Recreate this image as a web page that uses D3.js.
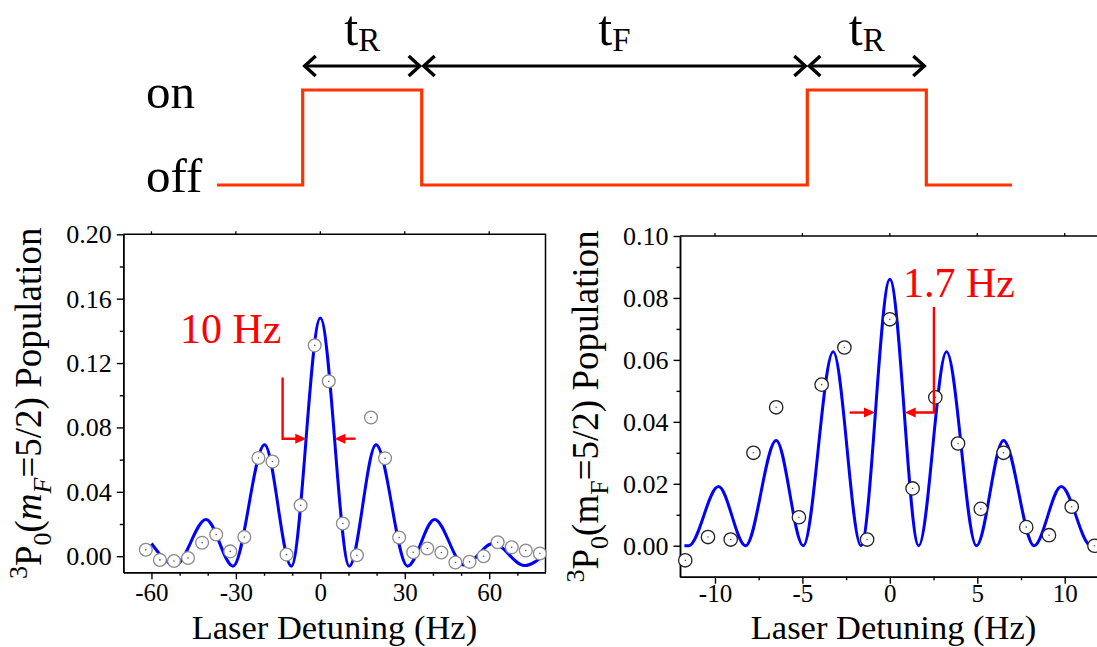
<!DOCTYPE html>
<html>
<head>
<meta charset="utf-8">
<script src="https://cdn.jsdelivr.net/npm/d3@7"></script>
<style>
  body { margin: 0; background: #fff; }
  svg { display: block; }
  text { font-family: "Liberation Serif", "Times New Roman", serif; }
</style>
</head>
<body>
<svg id="fig" width="1097" height="647"></svg>
<script>
// ---- Pulse sequence (arbitrary time units) ----
const pulseTimes  = [0, 0.72, 0.72, 1.72, 1.72, 4.96, 4.96, 5.96, 5.96, 6.68];
const pulseLevels = [0, 0, 1, 1, 0, 0, 1, 1, 0, 0];
const spanStarts  = [0.72, 1.72, 4.96];
const spanEnds    = [1.72, 4.96, 5.96];
const spanMain    = ["t", "t", "t"];
const spanSubs    = ["R", "F", "R"];
const levelNames  = ["off", "on"];

// ---- Rabi spectrum (left panel) ----
const rabiDetuning = [-62, -57, -52, -47, -42, -37, -32, -27, -22, -17, -12, -7, -2, 3, 8, 13, 18, 23, 28, 33, 38, 43, 48, 53, 58, 63, 68, 73, 78];
const rabiPop      = [0.0040, -0.0023, -0.0030, -0.0011, 0.0084, 0.0135, 0.0030, 0.0119, 0.0610, 0.0588, 0.0010, 0.0316, 0.1310, 0.1087, 0.0203, 0.0006, 0.0862, 0.0609, 0.0116, 0.0025, 0.0048, 0.0023, -0.0039, -0.0035, 0.0000, 0.0087, 0.0055, 0.0035, 0.0017];
const rabiFitX     = [-60, -51.5, -40.6, -31, -19.8, -10.3, 0, 10.3, 19.8, 31, 40.6, 51, 61.5, 72.5, 80];
const rabiFitY     = [0.0079, -0.0055, 0.0228, -0.0062, 0.0692, -0.0062, 0.148, -0.0062, 0.0692, -0.0062, 0.0228, -0.0055, 0.0080, -0.0058, 0.0015];
const rabiXTicks   = [-60, -30, 0, 30, 60];
const rabiXMinor   = [-50, -40, -20, -10, 10, 20, 40, 50, 70];
const rabiYTicks   = [0.00, 0.04, 0.08, 0.12, 0.16, 0.20];
const rabiYMinor   = [0.02, 0.06, 0.10, 0.14, 0.18];
const rabiWidth    = 10;     // Hz, FWHM label
const rabiHalf     = 0.073;

// ---- Ramsey spectrum (right panel) ----
const ramseyDetuning = [-11.7, -10.4, -9.1, -7.8, -6.5, -5.2, -3.9, -2.6, -1.3, 0, 1.3, 2.6, 3.9, 5.2, 6.5, 7.8, 9.1, 10.4, 11.7];
const ramseyPop      = [-0.0047, 0.0028, 0.0020, 0.0300, 0.0447, 0.0092, 0.0520, 0.0640, 0.0020, 0.0731, 0.0185, 0.0479, 0.0330, 0.0119, 0.0300, 0.0060, 0.0034, 0.0126, 0.0000];
const ramseyFitX     = [-11.75, -11.5, -9.8, -8.25, -6.5, -4.95, -3.24, -1.65, 0, 1.65, 3.24, 4.95, 6.5, 8.25, 9.8, 11.5, 11.75];
const ramseyFitY     = [0, 0, 0.0191, 0, 0.034, 0, 0.0626, 0, 0.086, 0, 0.0626, 0, 0.034, 0, 0.0191, 0, 0];
const ramseyXTicks   = [-10, -5, 0, 5, 10];
const ramseyXMinor   = [-7.5, -2.5, 2.5, 7.5];
const ramseyYTicks   = [0.00, 0.02, 0.04, 0.06, 0.08, 0.10];
const ramseyYMinor   = [0.01, 0.03, 0.05, 0.07, 0.09];
const ramseyWidth    = 1.7;  // Hz, FWHM label
const ramseyHalf     = 0.043;

const svg = d3.select("#fig");

// =============== pulse sequence ===============
(function drawPulse() {
  const t = d3.scaleLinear().domain([0, 6.68]).range([217, 1012]);
  const lv = d3.scaleLinear().domain([0, 1]).range([185, 90]);
  const g = svg.append("g");

  const pts = pulseTimes.map((d, i) => [t(d), lv(pulseLevels[i])]);
  g.append("path")
    .attr("d", d3.line()(pts))
    .attr("fill", "none")
    .attr("stroke", "#ff3300")
    .attr("stroke-width", 3.2);

  g.selectAll("text.level").data(levelNames).join("text")
    .attr("class", "level")
    .attr("x", 146)
    .attr("y", (d, i) => lv(i) + (i ? 18 : 7))
    .attr("font-size", 49)
    .text(d => d);

  const ay = 66;
  spanStarts.forEach((s, i) => {
    const x0 = t(s) + 2, x1 = t(spanEnds[i]) - 2;
    g.append("line").attr("x1", x0).attr("x2", x1).attr("y1", ay).attr("y2", ay)
      .attr("stroke", "#000").attr("stroke-width", 3);
    const head = (xt, dir) => g.append("path")
      .attr("d", `M${xt + dir * 11},${ay - 10}L${xt},${ay}L${xt + dir * 11},${ay + 10}`)
      .attr("fill", "none").attr("stroke", "#000").attr("stroke-width", 3.4)
      .attr("stroke-linejoin", "miter");
    head(x0, 1); head(x1, -1);

    const lab = g.append("text")
      .attr("x", (x0 + x1) / 2).attr("y", 45)
      .attr("text-anchor", "middle").attr("font-size", 50);
    lab.append("tspan").text(spanMain[i]);
    lab.append("tspan").attr("font-size", 33).attr("dy", 6).text(spanSubs[i]);
  });
})();

// =============== spectrum panels ===============
function panel(cfg) {
  const x = d3.scaleLinear().domain(cfg.xDomain).range([cfg.left, cfg.right]);
  const y = d3.scaleLinear().domain(cfg.yDomain).range([cfg.bottom, cfg.top]);
  const g = svg.append("g");

  // frame (top + right)
  g.append("path")
    .attr("d", `M${cfg.left},${cfg.top}H${cfg.right}V${cfg.bottom}`)
    .attr("fill", "none").attr("stroke", "#000").attr("stroke-width", 1.5);

  // top-edge ticks
  g.selectAll("line.topTick").data(cfg.xTicks).join("line")
    .attr("class", "topTick")
    .attr("x1", d => x(d)).attr("x2", d => x(d))
    .attr("y1", cfg.top).attr("y2", cfg.top - 3)
    .attr("stroke", "#000").attr("stroke-width", 1.3);

  const styleAxis = fs => sel => {
    sel.select(".domain").attr("stroke-width", 1.5);
    sel.selectAll(".tick line").attr("stroke-width", 1.4);
    sel.selectAll(".tick text").attr("font-size", fs);
  };

  // minor ticks (no labels)
  const minorX = d3.axisBottom(x).tickValues(cfg.xMinor).tickSize(3.5).tickSizeOuter(0);
  const minorY = d3.axisLeft(y).tickValues(cfg.yMinor).tickSize(3.5).tickSizeOuter(0);
  g.append("g").attr("transform", `translate(0,${cfg.bottom})`)
    .call(minorX).call(styleAxis(25)).call(s => s.selectAll(".tick text").remove());
  g.append("g").attr("transform", `translate(${cfg.left},0)`)
    .call(minorY).call(styleAxis(26)).call(s => s.selectAll(".tick text").remove());

  // major ticks with labels
  g.append("g").attr("transform", `translate(0,${cfg.bottom})`)
    .call(d3.axisBottom(x).tickValues(cfg.xTicks).tickSize(7).tickPadding(cfg.xPad)
      .tickSizeOuter(0).tickFormat(d => String(d)))
    .call(styleAxis(25));
  g.append("g").attr("transform", `translate(${cfg.left},0)`)
    .call(d3.axisLeft(y).tickValues(cfg.yTicks).tickSize(6.5).tickPadding(5)
      .tickSizeOuter(0).tickFormat(d3.format(".2f")))
    .call(styleAxis(26));

  // axis titles
  g.append("text")
    .attr("x", (cfg.left + Math.min(cfg.right, 1097)) / 2 + cfg.xTitleShift)
    .attr("y", cfg.xTitleY)
    .attr("text-anchor", "middle").attr("font-size", 34.5)
    .text("Laser Detuning (Hz)");

  const yt = g.append("text")
    .attr("transform", `translate(${cfg.yTitleX},${(cfg.top + cfg.bottom) / 2}) rotate(-90)`)
    .attr("text-anchor", "middle").attr("font-size", 37);
  let shift = 0;
  const parts = [
    { s: "3", sh: -14, small: true },
    { s: "P", sh: 0 },
    { s: "0", sh: 10, small: true },
    { s: "(", sh: 0 },
    { s: "m", sh: 0, it: cfg.italicM },
    { s: "F", sh: 10, small: true, it: cfg.italicM },
    { s: "=5/2) Population", sh: 0 }
  ];
  parts.forEach(p => {
    const ts = yt.append("tspan").attr("dy", p.sh - shift).text(p.s);
    if (p.small) ts.attr("font-size", 26);
    if (p.it) ts.attr("font-style", "italic");
    shift = p.sh;
  });

  // fit curve
  g.append("path")
    .attr("d", d3.line().x(d => x(d[0])).y(d => y(d[1])).curve(d3.curveMonotoneX)(
      cfg.fitX.map((v, i) => [v, cfg.fitY[i]])))
    .attr("fill", "none").attr("stroke", "#0000ff").attr("stroke-width", 3);

  // measured points
  const pts = cfg.px.map((v, i) => [v, cfg.py[i]]);
  g.selectAll("circle.pt").data(pts).join("circle")
    .attr("class", "pt")
    .attr("cx", d => x(d[0])).attr("cy", d => y(d[1])).attr("r", cfg.r)
    .attr("fill", "#fff").attr("stroke", cfg.ptStroke).attr("stroke-width", 1.3);
  g.selectAll("circle.dot").data(pts).join("circle")
    .attr("class", "dot")
    .attr("cx", d => x(d[0])).attr("cy", d => y(d[1])).attr("r", 0.8)
    .attr("fill", "#555");

  // linewidth annotation
  const red = "#ff0000";
  const a = cfg.ann;
  const hy = y(a.level);
  const head = (tip, dir) => g.append("path")
    .attr("d", `M${tip},${hy}L${tip - dir * 11},${hy - 5}L${tip - dir * 11},${hy + 5}Z`)
    .attr("fill", red);
  const lTip = x(-a.width / 2), rTip = x(a.width / 2);
  if (a.side === "left") {
    g.append("path")
      .attr("d", `M${x(a.postX)},${y(a.postTop)}V${hy}H${lTip - 9}`)
      .attr("fill", "none").attr("stroke", red).attr("stroke-width", 2.4);
    g.append("line").attr("x1", x(a.tailX)).attr("x2", rTip + 9)
      .attr("y1", hy).attr("y2", hy).attr("stroke", red).attr("stroke-width", 2.4);
  } else {
    g.append("path")
      .attr("d", `M${x(a.postX)},${y(a.postTop)}V${hy}H${rTip + 9}`)
      .attr("fill", "none").attr("stroke", red).attr("stroke-width", 2.4);
    g.append("line").attr("x1", x(a.tailX)).attr("x2", lTip - 9)
      .attr("y1", hy).attr("y2", hy).attr("stroke", red).attr("stroke-width", 2.4);
  }
  head(lTip, 1); head(rTip, -1);
  g.append("text")
    .attr("x", a.tx).attr("y", a.ty).attr("font-size", 42).style("fill", red)
    .text(`${a.width} Hz`);
}

panel({
  left: 123.3, right: 545.5, top: 234.3, bottom: 572.3,
  xDomain: [-70, 80], yDomain: [-0.01, 0.20],
  xTicks: rabiXTicks, xMinor: rabiXMinor, yTicks: rabiYTicks, yMinor: rabiYMinor,
  xPad: 4, xTitleY: 638.5, xTitleShift: 0, yTitleX: 41, italicM: true,
  fitX: rabiFitX, fitY: rabiFitY, px: rabiDetuning, py: rabiPop,
  r: 6.4, ptStroke: "#8a8a8a",
  ann: { width: rabiWidth, level: rabiHalf, side: "left", postX: -13.4, postTop: 0.111,
         tailX: 12.5, tx: 180, ty: 343 }
});

panel({
  left: 680, right: 1099.7, top: 236, bottom: 576.7,
  xDomain: [-12, 12], yDomain: [-0.01, 0.10],
  xTicks: ramseyXTicks, xMinor: ramseyXMinor, yTicks: ramseyYTicks, yMinor: ramseyYMinor,
  xPad: 1, xTitleY: 638.5, xTitleShift: 5, yTitleX: 598, italicM: false,
  fitX: ramseyFitX, fitY: ramseyFitY, px: ramseyDetuning, py: ramseyPop,
  r: 6.7, ptStroke: "#222",
  ann: { width: ramseyWidth, level: ramseyHalf, side: "right", postX: 2.52, postTop: 0.0771,
         tailX: -2.3, tx: 903, ty: 297 }
});
</script>
</body>
</html>
